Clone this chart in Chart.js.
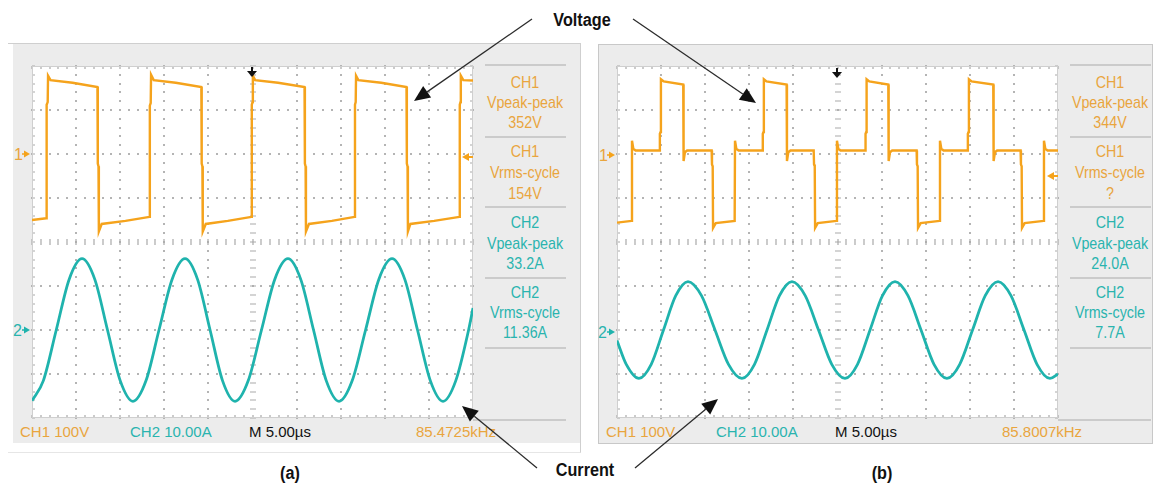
<!DOCTYPE html>
<html>
<head>
<meta charset="utf-8">
<script src="https://cdn.jsdelivr.net/npm/chart.js@4.4.1/dist/chart.umd.min.js"></script>
<style>
  html, body { margin: 0; padding: 0; background: #fff; }
  #fig { position: relative; width: 1156px; height: 490px; overflow: hidden; font-family: "Liberation Sans", Arial, sans-serif; }
  .frame { position: absolute; box-sizing: border-box; }
  .scope { position: absolute; background: #ececec; box-sizing: border-box; }
  canvas.plot { position: absolute; }
  .t { position: absolute; white-space: nowrap; line-height: 1; transform-origin: center center; }
  .side { font-size: 17px; transform: translate(-50%, -50%) scaleX(0.84); }
  .status { font-size: 15px; transform: translateY(-50%); }
  .mark { font-size: 16px; transform: translateY(-50%); }
  .sep { position: absolute; height: 2px; background: #cbcbcb; }
  .cap { font-weight: bold; font-size: 18px; color: #111; transform: translate(-50%, -50%) scaleX(0.9); }
  svg.over { position: absolute; left: 0; top: 0; pointer-events: none; }
</style>
</head>
<body>
<div id="fig">
  <div class="frame" style="left:8px;top:43px;width:573px;height:410px;border-top:1px solid #cfcfcf;border-right:1px solid #cfcfcf;border-bottom:1px solid #e6e6e6;"></div>
  <div class="scope" style="left:13px;top:44px;width:567px;height:399px;"></div>
  <div class="scope" style="left:598px;top:44px;width:555px;height:400px;border:1px solid #c8c8c8;"></div>
  <canvas id="scopeA" class="plot" width="445" height="356" style="left:30px;top:64px;"></canvas>
  <canvas id="scopeB" class="plot" width="445" height="356" style="left:615px;top:64px;"></canvas>
</div>
<script>
// ---- time base: 5 µs/div, 10 divisions ----
const timeSpan = [0, 50];

// ---- (a) CH1 voltage, two-level square wave (V) ----
const timeVoltA = [0, 1.62, 1.66, 1.78, 1.82, 2.10, 4.60, 7.42, 7.46, 7.54, 7.58, 7.90, 10.60, 13.32,
  13.36, 13.46, 13.50, 13.80, 16.30, 19.20, 19.24, 19.32, 19.36, 19.70, 22.20, 24.88,
  24.92, 25.00, 25.04, 25.30, 27.90, 30.90, 30.94, 31.02, 31.06, 31.40, 34.00, 36.58,
  36.62, 36.70, 36.74, 37.00, 39.60, 42.46, 42.50, 42.58, 42.62, 42.90, 45.60, 48.46,
  48.50, 48.58, 48.62, 48.90, 50];
const voltA = [-150, -146, 112, 118, 178, 168, 162, 152, -22, -28, -176, -159, -152, -143,
  110, 116, 180, 168, 162, 152, -22, -28, -176, -159, -152, -143,
  112, 118, 178, 168, 162, 152, -22, -28, -176, -159, -152, -143,
  112, 118, 178, 168, 162, 152, -22, -28, -176, -159, -152, -143,
  112, 118, 178, 168, 167];

// ---- (a) CH2 current (A) ----
const timeCurrA = [0, 1.29, 2.75, 4.21, 5.67, 7.12, 8.56, 10.00, 11.45, 12.93, 14.40, 15.88, 17.35,
  18.77, 20.19, 21.60, 23.02, 24.52, 26.02, 27.52, 29.02, 30.47, 31.92, 33.36, 34.81,
  36.31, 37.82, 39.32, 40.82, 42.27, 43.71, 45.16, 46.60, 48.05, 49.50, 50];
const currA = [-16.1, -11.5, 0, 11.5, 16.2, 11.5, 0, -11.5, -16.2, -11.5, 0, 11.5, 16.2,
  11.5, 0, -11.5, -16.2, -11.5, 0, 11.5, 16.2, 11.5, 0, -11.5, -16.2,
  -11.5, 0, 11.5, 16.2, 11.5, 0, -11.5, -16.2, -11.5, 0, 5.0];

// ---- (b) CH1 voltage, three-level wave (V) ----
const timeVoltB = [0,
  1.66, 1.70, 1.85, 2.10, 4.82, 4.86, 4.94, 4.98, 5.30, 7.51, 7.55, 7.70, 7.95, 10.73, 10.77, 10.85, 10.89, 11.20,
  13.34, 13.38, 13.53, 13.78, 16.49, 16.53, 16.61, 16.65, 16.95, 19.23, 19.27, 19.42, 19.67, 22.30, 22.34, 22.42, 22.46, 22.76,
  24.90, 24.94, 25.09, 25.34, 28.14, 28.18, 28.26, 28.30, 28.60, 30.76, 30.80, 30.95, 31.20, 33.97, 34.01, 34.09, 34.13, 34.43,
  36.58, 36.62, 36.77, 37.02, 39.74, 39.78, 39.86, 39.90, 40.20, 42.66, 42.70, 42.85, 43.10, 45.76, 45.80, 45.88, 45.92, 46.22,
  48.37, 48.41, 48.56, 48.81, 50];
const voltB = [-156,
  -152, 30, 12, 8, 8, 46, 50, 170, 165, 158, -16, 4, 8, 8, -24, -28, -168, -157,
  -152, 30, 12, 8, 8, 46, 50, 170, 165, 158, -16, 4, 8, 8, -24, -28, -168, -157,
  -152, 30, 12, 8, 8, 46, 50, 170, 165, 158, -16, 4, 8, 8, -24, -28, -168, -157,
  -152, 30, 12, 8, 8, 46, 50, 170, 165, 158, -16, 4, 8, 8, -24, -28, -168, -157,
  -152, 30, 12, 8, 8];

// ---- (b) CH2 current (A) ----
const timeCurrB = [0, 1.05, 2.49, 3.88, 5.27, 6.66, 8.05, 9.58, 11.11, 12.64, 14.17, 15.59, 17.01,
  18.42, 19.84, 21.34, 22.85, 24.35, 25.85, 27.27, 28.69, 30.10, 31.52, 32.99, 34.47,
  35.94, 37.41, 38.86, 40.31, 41.75, 43.20, 44.67, 46.15, 47.62, 49.09, 50];
const currB = [-2.4, -7.8, -11, -7.8, 0, 7.8, 11, 7.8, 0, -7.8, -11, -7.8, 0,
  7.8, 11, 7.8, 0, -7.8, -11, -7.8, 0, 7.8, 11, 7.8, 0,
  -7.8, -11, -7.8, 0, 7.8, 11, 7.8, 0, -7.8, -11, -10.0];

// ---- vertical scales: CH1 100 V/div (ground 2 div above centre), CH2 10 A/div (zero 2 div below centre) ----
const voltRange = [-600, 200];
const currRange = [-20, 60];

// ---- readouts ----
const readoutA = [['CH1', 'Vpeak-peak', '352V'], ['CH1', 'Vrms-cycle', '154V'], ['CH2', 'Vpeak-peak', '33.2A'], ['CH2', 'Vrms-cycle', '11.36A']];
const readoutB = [['CH1', 'Vpeak-peak', '344V'], ['CH1', 'Vrms-cycle', '?'], ['CH2', 'Vpeak-peak', '24.0A'], ['CH2', 'Vrms-cycle', '7.7A']];
const statusA = ['CH1 100V', 'CH2 10.00A', 'M 5.00µs', '85.4725kHz'];
const statusB = ['CH1 100V', 'CH2 10.00A', 'M 5.00µs', '85.8007kHz'];

const ORANGE = '#f5a31c';
const TEAL = '#1fb3ad';
const ORANGE_TXT = '#e9a53e';
const TEAL_TXT = '#2ab4af';

const zip = (xs, ys) => xs.map((x, i) => ({ x: x, y: ys[i] }));

// oscilloscope graticule: 10 x 8 divisions, dotted, with minor ticks on the axes and border
const graticule = {
  id: 'graticule',
  beforeDatasetsDraw(chart) {
    const { ctx, chartArea: a, scales } = chart;
    const xs = scales.x, ys = scales.yv;
    const xDiv = [], yDiv = [];
    for (let i = 0; i <= 10; i++) xDiv.push(xs.getPixelForValue(timeSpan[0] + i * 5));
    for (let j = 0; j <= 8; j++) yDiv.push(ys.getPixelForValue(voltRange[1] - j * 100));
    const xMinor = [], yMinor = [];
    for (let k = 0; k <= 50; k++) xMinor.push(xs.getPixelForValue(k * 1));
    for (let k = 0; k <= 40; k++) yMinor.push(ys.getPixelForValue(voltRange[1] - k * 20));
    ctx.save();
    ctx.fillStyle = '#ffffff';
    ctx.fillRect(a.left, a.top, a.width, a.height);
    // dotted division lines
    ctx.fillStyle = '#b4b4b4';
    for (let i = 1; i < 10; i++) {
      if (i === 5) continue;
      for (const y of yMinor) ctx.fillRect(Math.round(xDiv[i]) - 1, Math.round(y) - 1, 2, 2);
    }
    for (let j = 1; j < 8; j++) {
      if (j === 4) continue;
      for (const x of xMinor) ctx.fillRect(Math.round(x) - 1, Math.round(yDiv[j]) - 1, 2, 2);
    }
    // centre axes with minor ticks
    ctx.strokeStyle = '#a9a9a9';
    ctx.lineWidth = 1.2;
    ctx.beginPath();
    const cx = Math.round(xDiv[5]), cy = Math.round(yDiv[4]);
    for (const x of xMinor) { ctx.moveTo(Math.round(x), cy - 3); ctx.lineTo(Math.round(x), cy + 3); }
    for (const y of yMinor) { ctx.moveTo(cx - 3, Math.round(y)); ctx.lineTo(cx + 3, Math.round(y)); }
    // border ticks
    for (const x of xMinor) {
      ctx.moveTo(Math.round(x), a.top); ctx.lineTo(Math.round(x), a.top + 3);
      ctx.moveTo(Math.round(x), a.bottom); ctx.lineTo(Math.round(x), a.bottom - 3);
    }
    for (const y of yMinor) {
      ctx.moveTo(a.left, Math.round(y)); ctx.lineTo(a.left + 3, Math.round(y));
      ctx.moveTo(a.right, Math.round(y)); ctx.lineTo(a.right - 3, Math.round(y));
    }
    ctx.stroke();
    ctx.strokeStyle = '#cfcfcf';
    ctx.lineWidth = 1;
    ctx.strokeRect(a.left + 0.5, a.top + 0.5, a.width - 1, a.height - 1);
    ctx.restore();
  }
};

function makeScope(id, tV, vV, tI, vI) {
  return new Chart(document.getElementById(id), {
    type: 'line',
    data: {
      datasets: [
        { label: 'CH1', data: zip(tV, vV), yAxisID: 'yv', borderColor: ORANGE, borderWidth: 2.4,
          pointRadius: 0, tension: 0, fill: false },
        { label: 'CH2', data: zip(tI, vI), yAxisID: 'yi', borderColor: TEAL, borderWidth: 2.8,
          pointRadius: 0, cubicInterpolationMode: 'monotone', fill: false }
      ]
    },
    options: {
      responsive: false, animation: false, devicePixelRatio: 1,
      layout: { padding: 2 },
      plugins: { legend: { display: false }, tooltip: { enabled: false } },
      scales: {
        x: { type: 'linear', min: timeSpan[0], max: timeSpan[1], display: false },
        yv: { type: 'linear', min: voltRange[0], max: voltRange[1], display: false },
        yi: { type: 'linear', min: currRange[0], max: currRange[1], display: false }
      }
    },
    plugins: [graticule]
  });
}

makeScope('scopeA', timeVoltA, voltA, timeCurrA, currA);
makeScope('scopeB', timeVoltB, voltB, timeCurrB, currB);

// ---- text and decorations ----
const fig = document.getElementById('fig');
function addText(cls, txt, x, y, color, extra) {
  const d = document.createElement('div');
  d.className = 't ' + cls;
  d.textContent = txt;
  d.style.left = x + 'px';
  d.style.top = y + 'px';
  if (color) d.style.color = color;
  if (extra) Object.assign(d.style, extra);
  fig.appendChild(d);
  return d;
}
function addSep(x1, x2, y) {
  const d = document.createElement('div');
  d.className = 'sep';
  d.style.left = x1 + 'px'; d.style.width = (x2 - x1) + 'px'; d.style.top = (y - 1) + 'px';
  fig.appendChild(d);
}

const sideRows = [[82, 102, 122], [151, 172, 193], [222, 243, 263], [292, 312, 332]];
const sepRows = [65, 137, 207, 278, 348];
function sidePanel(cx, x1, x2, readout) {
  sepRows.forEach(y => addSep(x1, x2, y));
  readout.forEach((blk, b) => {
    const col = blk[0] === 'CH1' ? ORANGE_TXT : TEAL_TXT;
    blk.forEach((s, r) => addText('side', s, cx, sideRows[b][r], col));
  });
}
sidePanel(525, 485, 566, readoutA);
sidePanel(1110, 1070, 1151, readoutB);
addSep(473, 566, 420);
addSep(1058, 1151, 420);

function statusBar(xs, status) {
  const cols = [ORANGE_TXT, TEAL_TXT, '#111', ORANGE_TXT];
  status.forEach((s, i) => addText('status', s, xs[i], 431, cols[i]));
}
statusBar([20, 130, 249, 416], statusA);
statusBar([606, 716, 835, 1002], statusB);

addText('mark', '1', 14, 155, ORANGE_TXT);
addText('mark', '2', 13, 331, TEAL_TXT);
addText('mark', '1', 599, 156, ORANGE_TXT);
addText('mark', '2', 598, 333, TEAL_TXT);

addText('cap', 'Voltage', 582, 20);
addText('cap', 'Current', 585, 470);
addText('cap', '(a)', 290, 473);
addText('cap', '(b)', 882, 473);

const NS = 'http://www.w3.org/2000/svg';
const svg = document.createElementNS(NS, 'svg');
svg.setAttribute('class', 'over');
svg.setAttribute('width', 1156);
svg.setAttribute('height', 490);
fig.appendChild(svg);
function el(name, attrs) {
  const e = document.createElementNS(NS, name);
  for (const k in attrs) e.setAttribute(k, attrs[k]);
  svg.appendChild(e);
  return e;
}
function arrow(x1, y1, x2, y2) {
  const dx = x2 - x1, dy = y2 - y1, L = Math.hypot(dx, dy);
  const ux = dx / L, uy = dy / L, hl = 16, hw = 7;
  const bx = x2 - ux * hl, by = y2 - uy * hl;
  el('line', { x1: x1, y1: y1, x2: bx, y2: by, stroke: '#2b2b2b', 'stroke-width': 1.3 });
  el('polygon', { points: `${x2},${y2} ${bx - uy * hw},${by + ux * hw} ${bx + uy * hw},${by - ux * hw}`, fill: '#111' });
}
arrow(532, 19, 414, 101);
arrow(633, 19, 756, 103);
arrow(537, 468, 462, 406);
arrow(635, 468, 718, 399);

// channel ground markers
function rightTri(x, y, col) { el('polygon', { points: `${x},${y - 3.5} ${x + 6},${y} ${x},${y + 3.5}`, fill: col }); el('line', { x1: x - 2, y1: y, x2: x + 1, y2: y, stroke: col, 'stroke-width': 1.5 }); }
rightTri(24, 154, ORANGE);
rightTri(24, 330, TEAL);
rightTri(609, 155, ORANGE);
rightTri(609, 332, TEAL);
// trigger level markers
function leftTri(x, y, col) { el('polygon', { points: `${x},${y} ${x + 7},${y - 4} ${x + 7},${y + 4}`, fill: col }); el('line', { x1: x + 6, y1: y, x2: x + 11, y2: y, stroke: col, 'stroke-width': 2 }); }
leftTri(462, 157, ORANGE);
leftTri(1047, 176, ORANGE);
// trigger position markers
function downArrow(x, y) { el('line', { x1: x, y1: y, x2: x, y2: y + 6, stroke: '#111', 'stroke-width': 2 }); el('polygon', { points: `${x - 5},${y + 4} ${x + 5},${y + 4} ${x},${y + 10}`, fill: '#111' }); }
downArrow(252, 67);
downArrow(837, 68);
</script>
</body>
</html>
